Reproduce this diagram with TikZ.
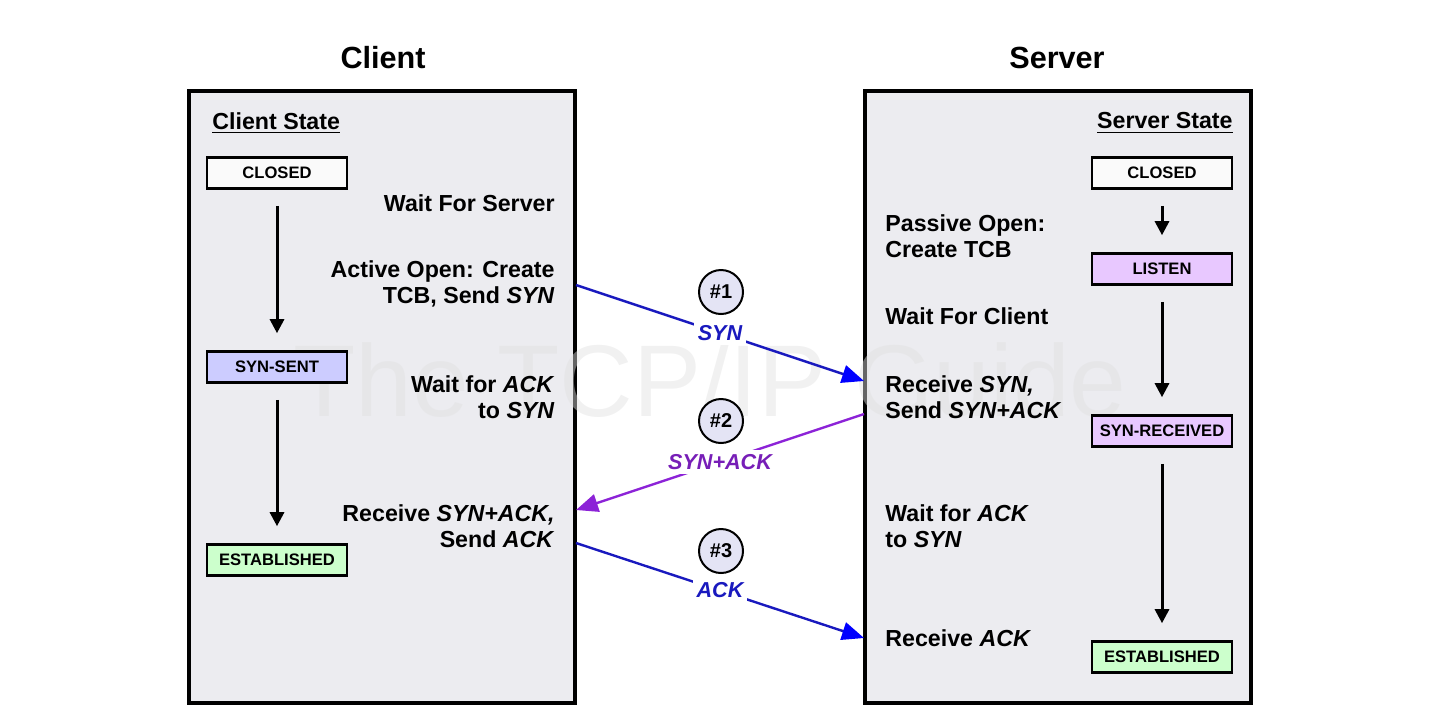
\documentclass[tikz,border=0pt]{standalone}
\usepackage{fontspec}
\setmainfont{Liberation Sans}
\usetikzlibrary{arrows.meta,positioning,calc}

\definecolor{panelgray}{RGB}{236,236,240}
\definecolor{closedfill}{RGB}{250,250,250}
\definecolor{sentfill}{RGB}{204,204,255}
\definecolor{listenfill}{RGB}{232,200,255}
\definecolor{estfill}{RGB}{204,255,204}
\definecolor{numfill}{RGB}{228,228,245}
\definecolor{synblue}{RGB}{25,25,190}
\definecolor{tipblue}{RGB}{0,0,255}
\definecolor{ackpurple}{RGB}{140,35,215}

\tikzset{
  panel/.style={draw, line width=1.6pt, fill=panelgray, minimum width=193pt, minimum height=306pt, inner sep=0},
  statebox/.style={draw, line width=1.3pt, minimum width=70pt, minimum height=15.5pt, inner sep=0,
    font=\fontsize{8.3}{10}\selectfont\bfseries},
  flow/.style={line width=1.5pt, -{Triangle[length=7pt,width=7pt]}, shorten <=8pt, shorten >=8.5pt},
  msg/.style={line width=1.2pt},
  msglabel/.style={fill=white, inner sep=2pt, font=\fontsize{10.8}{12}\selectfont\bfseries\itshape},
  numcircle/.style={circle, draw, line width=1pt, fill=numfill, minimum size=22pt, inner sep=0,
    font=\fontsize{10}{12}\selectfont\bfseries}
}

\begin{document}
\begin{tikzpicture}[x=0.5pt, y=-0.5pt, every node/.style={font=\fontsize{11.6}{13}\selectfont\bfseries}]
  \useasboundingbox (0,0) rectangle (1440,719);

  \node (clientpanel) [panel] at (382,397) {};
  \node (serverpanel) [panel] at (1058,397) {};
  \node (watermark) [font=\fontsize{51}{56}\selectfont, text=black!12, opacity=0.45] at (710,380) {The TCP/IP Guide};

  \node (clienttitle) [font=\fontsize{15.3}{18}\selectfont\bfseries] at (383,58) {Client};
  \node (servertitle) [font=\fontsize{15.3}{18}\selectfont\bfseries] at (1057,58) {Server};

  % client side
  \node (clientstate) [anchor=west, inner sep=0] at (212,123) {\underline{Client State}};
  \node (cclosed) [statebox, fill=closedfill] at (277,173) {CLOSED};
  \node (csent) [statebox, fill=sentfill] at (277,367) {SYN-SENT};
  \node (cest) [statebox, fill=estfill] at (277,560) {ESTABLISHED};
  \draw[flow] (cclosed) -- (csent);
  \draw[flow] (csent) -- (cest);

  \node (cwait) [anchor=east, inner sep=0] at (555,203) {Wait For Server};
  \node (copen) [anchor=east, align=right, inner sep=0] at (555,284) {Active Open: Create\\TCB, Send \textit{SYN}};
  \node (cwaitack) [anchor=east, align=right, inner sep=0] at (555,397) {Wait for \textit{ACK}\\to \textit{SYN}};
  \node (crecv) [anchor=east, align=right, inner sep=0] at (555,526) {Receive \textit{SYN+ACK,}\\Send \textit{ACK}};

  % server side
  \node (serverstate) [anchor=east, inner sep=0] at (1233,123) {\underline{Server State}};
  \node (sclosed) [statebox, fill=closedfill] at (1162,173) {CLOSED};
  \node (slisten) [statebox, fill=listenfill] at (1162,269) {LISTEN};
  \node (srcvd) [statebox, fill=listenfill] at (1162,431) {SYN-RECEIVED};
  \node (sest) [statebox, fill=estfill] at (1162,657) {ESTABLISHED};
  \draw[flow] (sclosed) -- (slisten);
  \draw[flow] (slisten) -- (srcvd);
  \draw[flow] (srcvd) -- (sest);

  \node (spassive) [anchor=west, align=left, inner sep=0] at (885,236) {Passive Open:\\Create TCB};
  \node (swait) [anchor=west, inner sep=0] at (885,316) {Wait For Client};
  \node (srecv) [anchor=west, align=left, inner sep=0] at (885,397) {Receive \textit{SYN,}\\Send \textit{SYN+ACK}};
  \node (swaitack) [anchor=west, align=left, inner sep=0] at (885,526) {Wait for \textit{ACK}\\to \textit{SYN}};
  \node (srecvack) [anchor=west, inner sep=0] at (885,638) {Receive \textit{ACK}};

  % segments
  \coordinate (synout) at (576,285);
  \coordinate (synin) at (864,381);
  \coordinate (sackout) at (864,414);
  \coordinate (sackin) at (576,510);
  \coordinate (ackout) at (576,543);
  \coordinate (ackin) at (864,638);

  \draw[msg, synblue, -{Triangle[length=11pt,width=9pt,color=tipblue]}] (synout) -- node[msglabel, text=synblue] (synlabel) {SYN} (synin);
  \draw[msg, ackpurple, -{Triangle[length=11pt,width=9pt]}] (sackout) -- node[msglabel, text=ackpurple!85!black] (sacklabel) {SYN+ACK} (sackin);
  \draw[msg, synblue, -{Triangle[length=11pt,width=9pt,color=tipblue]}] (ackout) -- node[msglabel, text=synblue] (acklabel) {ACK} (ackin);

  \node (num1) [numcircle] at (721,292) {\#1};
  \node (num2) [numcircle] at (721,421) {\#2};
  \node (num3) [numcircle] at (721,551) {\#3};
\end{tikzpicture}
\end{document}
